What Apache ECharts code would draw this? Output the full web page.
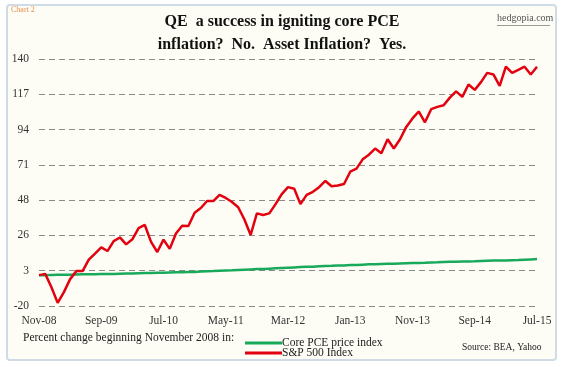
<!DOCTYPE html>
<html>
<head>
<meta charset="utf-8">
<script src="https://cdn.jsdelivr.net/npm/echarts@6/dist/echarts.min.js"></script>
<style>
html,body{margin:0;padding:0;background:#ffffff;}
#chart{width:564px;height:367px;}
</style>
</head>
<body>
<div id="chart"></div>
<script>
// Month categories Nov-08 .. Jul-15
const monthNames = ['Jan','Feb','Mar','Apr','May','Jun','Jul','Aug','Sep','Oct','Nov','Dec'];
const categories = [];
for (let y = 2008, m = 10; y < 2015 || (y === 2015 && m <= 6); m++) {
  if (m > 11) { m = 0; y++; }
  if (y === 2015 && m > 6) break;
  categories.push(monthNames[m] + '-' + String(y % 100).padStart(2, '0'));
}

// Percent change since November 2008
const corePCE = [
  0, 0, 0.1, 0.2, 0.3, 0.3, 0.4, 0.5, 0.5, 0.6,
  0.7, 0.8, 0.8, 0.9, 1.0, 1.1, 1.2, 1.3, 1.4, 1.5,
  1.6, 1.7, 1.8, 1.9, 2.0, 2.1, 2.3, 2.5, 2.6, 2.8,
  3.0, 3.1, 3.3, 3.5, 3.7, 3.9, 4.0, 4.2, 4.4, 4.6,
  4.8, 5.0, 5.2, 5.4, 5.5, 5.7, 5.9, 6.0, 6.2, 6.3,
  6.5, 6.6, 6.8, 7.0, 7.1, 7.2, 7.3, 7.4, 7.6, 7.7,
  7.8, 7.9, 8.0, 8.2, 8.3, 8.5, 8.6, 8.7, 8.8, 8.9,
  9.0, 9.2, 9.3, 9.4, 9.4, 9.5, 9.7, 9.8, 10.0, 10.2,
  10.4
];
const sp500 = [
  0, 0.8, -7.8, -18, -11, -2.6, 2.6, 2.6, 10, 14,
  18, 15.6, 22, 24.4, 19.9, 23.2, 30.5, 32.5, 21.5, 15,
  23, 17, 27, 32, 31.8, 40.4, 43.5, 48, 48, 52,
  50, 47.4, 44, 36, 26, 40, 39, 40, 46, 52.5,
  57, 56, 46, 52, 54, 57, 61, 57.6, 58, 59,
  67, 69, 75, 78, 82, 79, 88, 82, 88, 96,
  101.5, 106, 99, 107.5, 109, 110, 115, 119, 115.5, 123.5,
  120, 125, 131, 130, 122.6, 135, 131, 133, 135, 130,
  135
];
const yTickLabels = ['-20', '3', '26', '48', '71', '94', '117', '140'];
const yMin = -20, yMax = 140, yStep = 160 / 7;

const serif = '"Liberation Serif", "DejaVu Serif", serif';
const chart = echarts.init(document.getElementById('chart'));
chart.setOption({
  backgroundColor: '#ffffff',
  animation: false,
  graphic: [
    { type: 'rect', z: -10, shape: { x: 7, y: 5, width: 549, height: 355, r: 3 },
      style: { fill: '#fdfdf5', stroke: '#cfdbe7', lineWidth: 2 } },
    { type: 'text', left: 11, top: 6, style: { text: 'Chart 2', fill: '#e8904a', font: '8px ' + serif } },
    { type: 'text', left: 497, top: 13, style: { text: 'hedgopia.com', fill: '#555555', font: '10px ' + serif } },
    { type: 'rect', shape: { x: 497, y: 25, width: 53, height: 0.8 }, style: { fill: '#777777' } },
    { type: 'text', left: 23, top: 332, style: { text: 'Percent change beginning November 2008 in:', fill: '#222222', font: '11.5px ' + serif } },
    { type: 'text', left: 462, top: 342, style: { text: 'Source: BEA, Yahoo', fill: '#222222', font: '9.5px ' + serif } }
  ],
  title: {
    text: 'QE  a success in igniting core PCE\ninflation?  No.  Asset Inflation?  Yes.',
    left: 'center', top: 5,
    textStyle: { fontFamily: serif, fontWeight: 'bold', fontSize: 16, lineHeight: 23, color: '#111111' }
  },
  legend: {
    orient: 'vertical', left: 240, top: 332, itemGap: -2,
    itemWidth: 37, itemHeight: 3, icon: 'rect',
    textStyle: { fontFamily: serif, fontSize: 11.5, color: '#222222', padding: [0, 0, 0, -5] },
    data: ['Core PCE price index', 'S&P 500 Index']
  },
  grid: { left: 39, right: 27, top: 59, bottom: 61, containLabel: false },
  xAxis: {
    type: 'category', data: categories, boundaryGap: false,
    axisLine: { show: false }, axisTick: { show: false },
    axisLabel: { interval: 9, margin: 9, fontFamily: serif, fontSize: 11.5, color: '#333333' },
    splitLine: { show: false }
  },
  yAxis: {
    type: 'value', min: yMin, max: yMax, interval: yStep,
    axisLine: { show: false }, axisTick: { show: false },
    axisLabel: {
      margin: 10, fontFamily: serif, fontSize: 11.5, color: '#333333',
      formatter: v => yTickLabels[Math.round((v - yMin) / yStep)] || ''
    },
    splitLine: { lineStyle: { color: '#8a8a8a', type: [6, 4], width: 1 } }
  },
  series: [
    { name: 'Core PCE price index', type: 'line', data: corePCE, symbol: 'none',
      lineStyle: { color: '#19a95b', width: 2.5 }, itemStyle: { color: '#19a95b' }, z: 3 },
    { name: 'S&P 500 Index', type: 'line', data: sp500, symbol: 'none',
      lineStyle: { color: '#e3000f', width: 2.5 }, itemStyle: { color: '#e3000f' }, z: 4 }
  ]
});
</script>
</body>
</html>
